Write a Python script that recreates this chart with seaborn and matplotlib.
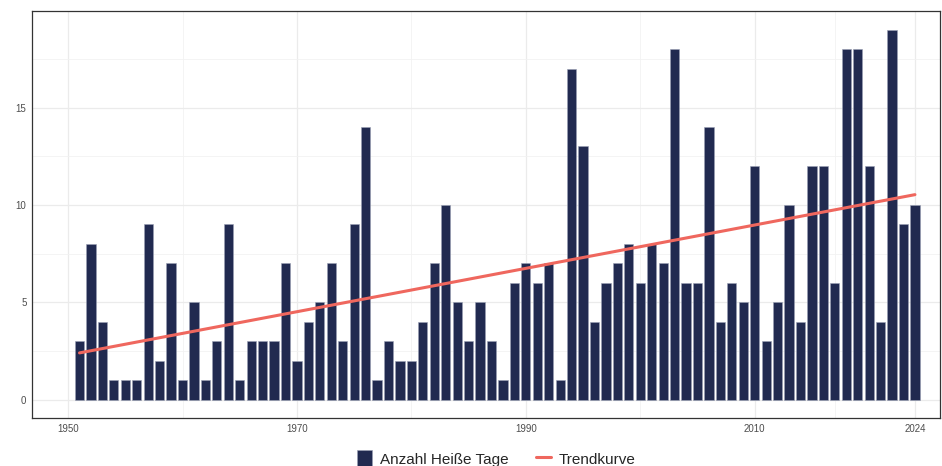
import numpy as np
import pandas as pd
import seaborn as sns
import matplotlib.pyplot as plt
from matplotlib.ticker import FixedLocator

# Heiße Tage pro Jahr
jahre = list(range(1951, 2025))
tage = [3, 8, 4, 1, 1, 1, 9, 2, 7, 1,
        5, 1, 3, 9, 1, 3, 3, 3, 7, 2,
        4, 5, 7, 3, 9, 14, 1, 3, 2, 2,
        4, 7, 10, 5, 3, 5, 3, 1, 6, 7,
        6, 7, 1, 17, 13, 4, 6, 7, 8, 6,
        8, 7, 18, 6, 6, 14, 4, 6, 5, 12,
        3, 5, 10, 4, 12, 12, 6, 18, 18, 12,
        4, 19, 9, 10]
x_ticks = [1950, 1970, 1990, 2010, 2024]
x_minor = [1960, 1980, 2000, 2017]
y_ticks = [0, 5, 10, 15]
y_minor = [2.5, 7.5, 12.5, 17.5]

bar_col = "#212a50"
trend_col = "#ef675e"

df = pd.DataFrame({"Jahr": jahre, "Tage": tage})
# lineare Trendkurve aus den Daten
k, d = np.polyfit(df["Jahr"], df["Tage"], 1)
df["Trend"] = k * df["Jahr"] + d

sns.set_theme(style="white")
plt.rcParams["font.family"] = ["Liberation Sans Narrow", "Liberation Sans", "DejaVu Sans"]

fig = plt.figure(figsize=(9.42, 4.66), dpi=100)
ax = fig.add_axes([0.034, 0.103, 0.964, 0.873])

sns.barplot(data=df, x="Jahr", y="Tage", native_scale=True, width=0.8,
            color=bar_col, saturation=1, edgecolor="#9aa0b4", linewidth=0.4,
            label="Anzahl Heiße Tage", ax=ax, zorder=2)
sns.lineplot(data=df, x="Jahr", y="Trend", color=trend_col, linewidth=2.2,
             label="Trendkurve", ax=ax, zorder=3)

ax.set_xlim(1946.85, 2026.2)
ax.set_ylim(-0.95, 19.95)
ax.xaxis.set_major_locator(FixedLocator(x_ticks))
ax.xaxis.set_minor_locator(FixedLocator(x_minor))
ax.yaxis.set_major_locator(FixedLocator(y_ticks))
ax.yaxis.set_minor_locator(FixedLocator(y_minor))
ax.set_xticklabels([str(t) for t in x_ticks])
ax.grid(True, which="major", color="#ebebeb", linewidth=0.9, zorder=0)
ax.grid(True, which="minor", color="#f2f2f2", linewidth=0.6, zorder=0)
ax.set_axisbelow(True)
ax.tick_params(axis="both", which="both", length=0, labelsize=7, labelcolor="#4d4d4d", pad=4)
ax.set_xlabel("")
ax.set_ylabel("")
for s in ax.spines.values():
    s.set_visible(True)
    s.set_color("#333333")
    s.set_linewidth(0.9)

handles, labels = ax.get_legend_handles_labels()
ax.get_legend().remove()
order = [labels.index("Anzahl Heiße Tage"), labels.index("Trendkurve")]
fig.legend([handles[i] for i in order], [labels[i] for i in order],
           loc="center", bbox_to_anchor=(0.527, 0.015), ncol=2,
           frameon=False, fontsize=11, handlelength=1.0, handleheight=1.4,
           columnspacing=1.8, handletextpad=0.5)

fig.savefig("out.png", dpi=100)
